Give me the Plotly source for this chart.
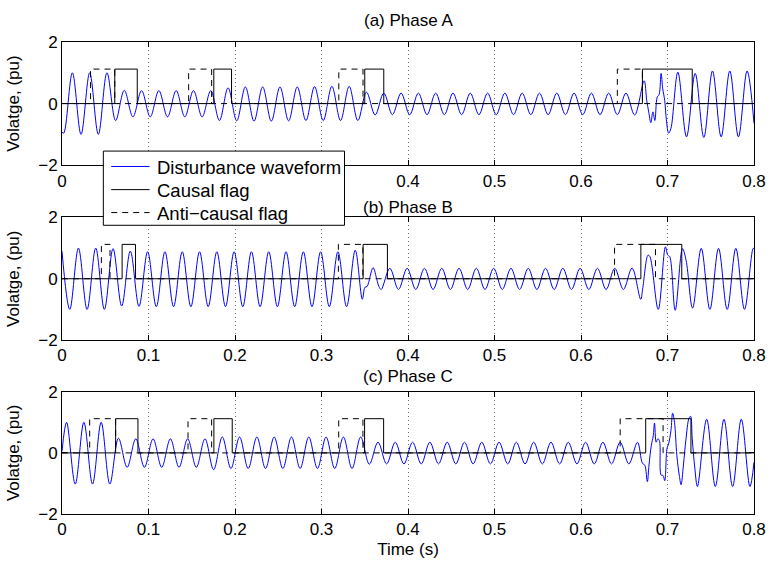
import plotly.graph_objects as go

# ---------------- data ----------------
TIME_END = 0.8
HALF_PERIOD = 0.01  # 50 Hz waveform -> extrema every 10 ms

# Phase A: extrema (one per half cycle), first one at t = 0.002 s
A_T0 = 0.002
A_EXTREMA = [
    -0.96, 1.00, -1.00, 1.00, -1.00, 1.00, -0.55, 0.43, -0.43, 0.42,
    -0.43, 0.42, -0.43, 0.42, -0.43, 0.42, -0.43, 0.42, -0.55, 0.51,
    -0.56, 0.54, -0.57, 0.54, -0.57, 0.54, -0.56, 0.54, -0.55, 0.55,
    -0.55, 0.56, -0.55, 0.56, -0.55, 0.37, -0.37, 0.34, -0.36, 0.34,
    -0.36, 0.34, -0.36, 0.34, -0.36, 0.34, -0.36, 0.34, -0.36, 0.34,
    -0.36, 0.34, -0.36, 0.34, -0.36, 0.34, -0.36, 0.34, -0.36, 0.34,
    -0.36, 0.34, -0.36, 0.34, -0.36, 0.34, -0.37, None, None, None,
    None, 1.02, -1.08, 0.98, -1.10, 1.06, -1.08, 1.06, -1.08, 1.06,
]
A_START = -0.93
A_END = -0.64
A_TRANSIENT_T = [0.6730, 0.6760, 0.6783, 0.6807, 0.6831, 0.6854, 0.6881,
                 0.6903, 0.6926, 0.6945, 0.6968, 0.6987, 0.7013, 0.7040]
A_TRANSIENT_V = [0.74, 0.10, -0.27, -0.62, -0.27, -0.55, 0.21,
                 0.29, 0.98, 0.48, 0.10, -0.53, -0.96, -0.80]
A_ANTI = [(0.033, 0.061), (0.1464, 0.173), (0.320, 0.348), (0.642, 0.671)]
A_CAUSAL = [(0.061, 0.087), (0.1755, 0.196), (0.350, 0.372), (0.671, 0.7286)]

# Phase B
B_T0 = 0.009
B_EXTREMA = [
    -1.00, 1.00, -1.00, 1.00, -1.00, 0.98, -0.89, 0.90, -0.90, 0.88,
    -0.91, 0.88, -0.91, 0.88, -0.91, 0.88, -0.91, 0.88, -0.91, 0.88,
    -0.91, 0.88, -0.91, 0.88, -0.91, 0.88, -0.91, 0.88, -0.91, 0.88,
    -0.91, 0.88, -0.91, 0.93, None, None, -0.35, 0.34, -0.35, 0.34,
    -0.35, 0.34, -0.35, 0.34, -0.35, 0.34, -0.35, 0.34, -0.35, 0.34,
    -0.35, 0.34, -0.35, 0.34, -0.35, 0.34, -0.35, 0.34, -0.35, 0.34,
    -0.35, 0.34, -0.35, 0.34, -0.35, 0.35, None, None, None, None,
    None, None, -0.96, 0.99, -1.00, 0.99, -1.00, 0.99, -1.00, 0.99,
]
B_START = 0.90
B_END = 0.98
B_TRANSIENT_T = [0.3472, 0.3502, 0.3527, 0.3596, 0.3640, 0.3663,
                 0.6690, 0.6715, 0.6775, 0.6797, 0.6893, 0.6976, 0.7003,
                 0.7026, 0.7089, 0.7173, 0.7215]
B_TRANSIENT_V = [-0.67, -0.28, -0.25, 0.36, -0.03, -0.25,
                 -0.67, -0.28, 0.77, 0.72, -1.00, 1.04, 0.77,
                 0.72, -1.03, 0.98, 0.60]
B_ANTI = [(0.0455, 0.0555), (0.3195, 0.3478), (0.6388, 0.6861)]
B_CAUSAL = [(0.0695, 0.085), (0.3481, 0.3762), (0.6692, 0.7165)]

# Phase C
C_T0 = 0.0053
C_EXTREMA = [
    1.00, -1.02, 1.00, -1.02, 1.00, -1.02, 0.48, -0.47, 0.46, -0.47,
    0.46, -0.47, 0.46, -0.47, 0.46, -0.47, 0.46, -0.55, 0.52, -0.51,
    0.52, -0.51, 0.52, -0.51, 0.52, -0.51, 0.52, -0.51, 0.52, -0.51,
    0.52, -0.51, 0.52, -0.51, 0.52, -0.37, 0.35, -0.36, 0.35, -0.36,
    0.35, -0.36, 0.35, -0.36, 0.35, -0.36, 0.35, -0.36, 0.35, -0.36,
    0.35, -0.36, 0.35, -0.36, 0.35, -0.36, 0.35, -0.36, 0.35, -0.36,
    0.35, -0.36, 0.35, -0.36, 0.35, -0.36, 0.35, None, None, None,
    None, None, None, None, 1.10, -1.10, 1.10, -1.10, 1.10, -1.10,
]
C_START = 0.05
C_END = -0.30
C_TRANSIENT_T = [0.6710, 0.6737, 0.6767, 0.6786, 0.6813, 0.6835, 0.6850,
                 0.6869, 0.6888, 0.6907, 0.6926, 0.6949, 0.6968, 0.6994,
                 0.7013, 0.7040, 0.7059, 0.7081, 0.7108, 0.7138, 0.7157,
                 0.7184, 0.7214, 0.7248, 0.7267, 0.7286, 0.7316, 0.7346]
C_TRANSIENT_V = [-0.34, -0.40, -0.94, -0.40, 0.25, 0.55, 0.98,
                 0.35, 0.46, 0.40, -0.72, -0.74, -0.91, 0.14,
                 0.30, 0.73, 1.30, 1.00, -0.08, -0.77, -1.04,
                 -0.40, 0.46, 1.13, 1.20, 0.46, -0.50, -1.10]
C_ANTI = [(0.032, 0.062), (0.1457, 0.173), (0.3199, 0.3479), (0.6453, 0.6949)]
C_CAUSAL = [(0.062, 0.0878), (0.1756, 0.1968), (0.3498, 0.3718), (0.6748, 0.7271)]

FLAG_LEVEL = 1.12

TITLES = ["(a) Phase A", "(b) Phase B", "(c) Phase C"]
SERIES_NAMES = ["Disturbance waveform", "Causal flag", "Anti\u2212causal flag"]
X_TICKS = [0, 0.1, 0.2, 0.3, 0.4, 0.5, 0.6, 0.7, 0.8]
X_TICK_TEXT = ["0", "0.1", "0.2", "0.3", "0.4", "0.5", "0.6", "0.7", "0.8"]
# in panel (a) the legend box hides the 0.1-0.3 labels
X_TICK_TEXT_A = ["0", "", "", "", "0.4", "0.5", "0.6", "0.7", "0.8"]
Y_TICKS = [-2, 0, 2]
Y_TICK_TEXT = ["\u22122", "0", "2"]


# ---------------- helpers ----------------
def build_wave(t0, extrema, start, end, tr_t, tr_v):
    pts = [(0.0, start), (TIME_END, end)]
    for k, v in enumerate(extrema):
        if v is not None:
            pts.append((t0 + HALF_PERIOD * k, v))
    pts += list(zip(tr_t, tr_v))
    pts.sort(key=lambda p: p[0])
    return [p[0] for p in pts], [p[1] for p in pts]


def build_flag(intervals):
    xs, ys = [0.0], [0.0]
    for s, e in intervals:
        xs += [s, s, e, e]
        ys += [0.0, FLAG_LEVEL, FLAG_LEVEL, 0.0]
    xs.append(TIME_END)
    ys.append(0.0)
    return xs, ys


panels = [
    (A_T0, A_EXTREMA, A_START, A_END, A_TRANSIENT_T, A_TRANSIENT_V, A_ANTI, A_CAUSAL),
    (B_T0, B_EXTREMA, B_START, B_END, B_TRANSIENT_T, B_TRANSIENT_V, B_ANTI, B_CAUSAL),
    (C_T0, C_EXTREMA, C_START, C_END, C_TRANSIENT_T, C_TRANSIENT_V, C_ANTI, C_CAUSAL),
]

W, H = 778, 567
M_L, M_R, M_T, M_B = 60, 15, 42, 46
PLOT_W = W - M_L - M_R
PLOT_H = H - M_T - M_B


def px_x(px):
    return (px - M_L) / PLOT_W


def px_y(py):
    return (H - M_B - py) / PLOT_H


def dom(top_px, bottom_px):
    return [px_y(bottom_px), px_y(top_px)]


DOMAINS = [dom(42, 167), dom(220, 344.5), dom(397, 521)]
TITLE_SHIFT = [10, -2, 4]

FONT = "Liberation Sans, Arial, Helvetica, sans-serif"
FS = 17
LEG_FS = 18.5

STYLES = [
    dict(color="#0000ff", width=1, shape="spline", smoothing=1),
    dict(color="black", width=1),
    dict(color="black", width=1, dash="6px,5px"),
]

fig = go.Figure()
layout = dict(
    width=W, height=H,
    margin=dict(l=M_L, r=M_R, t=M_T, b=M_B, pad=0),
    paper_bgcolor="white", plot_bgcolor="white",
    font=dict(family=FONT, size=FS, color="black"),
    showlegend=False,
)
annotations = []
shapes = []

for i, (t0, ext, st, en, trt, trv, anti, causal) in enumerate(panels):
    xa = "x" if i == 0 else f"x{i + 1}"
    ya = "y" if i == 0 else f"y{i + 1}"
    tw, vw = build_wave(t0, ext, st, en, trt, trv)
    cx, cy = build_flag(causal)
    ax, ay = build_flag(anti)
    for name, (xs, ys), sty in zip(SERIES_NAMES, [(tw, vw), (cx, cy), (ax, ay)], STYLES):
        fig.add_trace(go.Scatter(x=xs, y=ys, mode="lines", name=name, line=sty,
                                 xaxis=xa, yaxis=ya, hoverinfo="x+y+name"))

    xkey = "xaxis" if i == 0 else f"xaxis{i + 1}"
    ykey = "yaxis" if i == 0 else f"yaxis{i + 1}"
    layout[xkey] = dict(
        domain=[0, 1], anchor=ya, range=[0, TIME_END],
        tickvals=X_TICKS, ticktext=(X_TICK_TEXT_A if i == 0 else X_TICK_TEXT),
        showline=True, linecolor="black", linewidth=1, mirror="ticks",
        ticks="inside", ticklen=5, tickcolor="black", tickwidth=1,
        showgrid=True, gridcolor="rgba(0,0,0,0.55)", griddash="1px,3px", gridwidth=1,
        zeroline=False, tickfont=dict(family=FONT, size=FS, color="black"),
    )
    if i == 2:
        layout[xkey]["title"] = dict(text="Time (s)", standoff=4,
                                     font=dict(family=FONT, size=FS, color="black"))
    layout[ykey] = dict(
        domain=DOMAINS[i], anchor=xa, range=[-2, 2],
        tickvals=Y_TICKS, ticktext=Y_TICK_TEXT,
        showline=True, linecolor="black", linewidth=1, mirror="ticks",
        ticks="inside", ticklen=5, tickcolor="black", tickwidth=1,
        showgrid=False, zeroline=False,
        tickfont=dict(family=FONT, size=FS, color="black"),
        title=dict(text="Volatge, (pu)", standoff=14,
                   font=dict(family=FONT, size=FS, color="black")),
    )
    annotations.append(dict(
        text=TITLES[i], xref="paper", x=0.5, yref="paper", y=DOMAINS[i][1],
        xanchor="center", yanchor="bottom", yshift=TITLE_SHIFT[i],
        showarrow=False, font=dict(family=FONT, size=FS, color="black")))

# ---- legend box (MATLAB style, drawn over panels a/b) ----
LEG_LEFT, LEG_RIGHT, LEG_TOP, LEG_BOTTOM = 102, 347, 152.7, 228
ROW_Y = [169.5, 193, 216.3]
LINE_X0, LINE_X1, TEXT_X = 110, 149, 154
shapes.append(dict(type="rect", xref="paper", yref="paper", layer="above",
                   x0=px_x(LEG_LEFT), x1=px_x(LEG_RIGHT),
                   y0=px_y(LEG_BOTTOM), y1=px_y(LEG_TOP),
                   fillcolor="white", line=dict(color="black", width=1)))
for name, sty, ry in zip(SERIES_NAMES, STYLES, ROW_Y):
    ln = dict(color=sty["color"], width=sty["width"])
    if "dash" in sty:
        ln["dash"] = sty["dash"]
    shapes.append(dict(type="line", xref="paper", yref="paper", layer="above",
                       x0=px_x(LINE_X0), x1=px_x(LINE_X1), y0=px_y(ry - 1.2), y1=px_y(ry - 1.2),
                       line=ln))
    annotations.append(dict(text=name, xref="paper", yref="paper",
                            x=px_x(TEXT_X), y=px_y(ry), xanchor="left", yanchor="middle",
                            showarrow=False,
                            font=dict(family=FONT, size=LEG_FS, color="black")))

layout["annotations"] = annotations
layout["shapes"] = shapes
fig.update_layout(**layout)
fig.write_html("out.html")
